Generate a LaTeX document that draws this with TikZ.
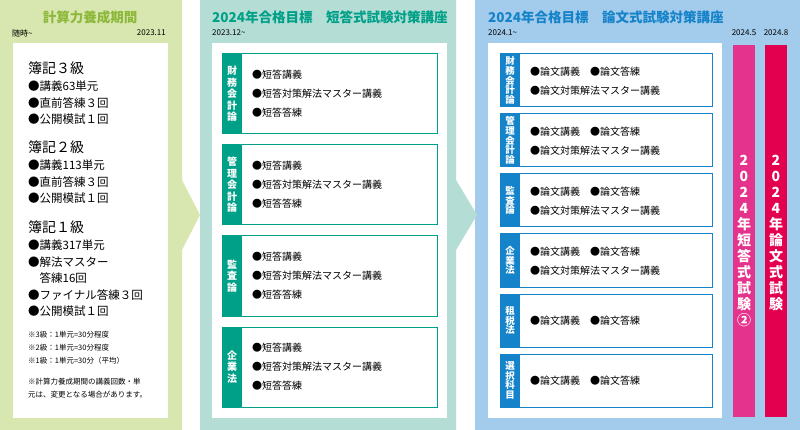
\documentclass[tikz,border=0pt]{standalone}
\usepackage{fontspec}
\setmainfont{Noto Sans CJK JP}
\usetikzlibrary{positioning}
\definecolor{grnbg}{HTML}{D8E7AF}
\definecolor{grnfg}{HTML}{8DB83B}
\definecolor{tealbg}{HTML}{B3DDD5}
\definecolor{tealfg}{HTML}{00A088}
\definecolor{bluebg}{HTML}{A3CBEB}
\definecolor{bluefg}{HTML}{1583C9}
\definecolor{pinkbar}{HTML}{E4338C}
\definecolor{redbar}{HTML}{E2004F}
\tikzset{
  item/.style={anchor=west, inner sep=0pt, font=\fontsize{10}{12}\selectfont},
  bigitem/.style={anchor=west, inner sep=0pt, font=\fontsize{11.5}{14}\selectfont},
  grade/.style={anchor=west, inner sep=0pt, font=\fontsize{14}{17}\selectfont},
  note/.style={anchor=west, inner sep=0pt, font=\fontsize{7.5}{13}\selectfont, align=left},
  date/.style={inner sep=0pt, font=\fontsize{8}{9}\selectfont},
  title/.style={inner sep=0pt, font=\bfseries\fontsize{13.5}{16}\selectfont},
  tab/.style={inner sep=0pt, text=white, align=center, font=\bfseries\fontsize{10}{11.5}\selectfont},
  rtab/.style={tab, font=\bfseries\fontsize{9.5}{9.6}\selectfont},
  bartext/.style={inner sep=0pt, text=white, align=center, font=\bfseries\fontsize{14}{16}\selectfont}
}
\newcommand{\subbox}[6]{% x1,x2,y1,y2,colour,name
  \draw[#5, line width=1pt, fill=white] (#1,#3) rectangle (#2,#4);
  \fill[#5] (#1,#3) rectangle ++(20,#4-#3);
  \coordinate (#6) at (#1+10,{(#3+#4)/2});
}
\begin{document}
\begin{tikzpicture}[x=1pt,y=-1pt]
  \useasboundingbox (0,0) rectangle (800,430);
  % panels
  \fill[bluebg] (475,0) rectangle (800,430);
  \fill[tealbg] (200,0) -- (456,0) -- (456,180) -- (477,215) -- (456,250) -- (456,430) -- (200,430) -- cycle;
  \fill[grnbg] (0,0) -- (182,0) -- (182,180) -- (200,215) -- (182,250) -- (182,430) -- (0,430) -- cycle;
  \fill[white] (13,43) rectangle (168,418);
  \fill[white] (212,43) rectangle (447,418);
  \fill[white] (488,43) rectangle (722,418);

  % panel 1
  \node[title, text=grnfg] (t1) at (90,17) {計算力養成期間};
  \node[date, anchor=west] (d1a) at (12,33) {随時\textasciitilde};
  \node[date, anchor=east] (d1b) at (166,33) {2023.11};
  \node[grade] (g3) at (28,68) {簿記３級};
  \foreach \t [count=\i] in {●講義63単元, ●直前答練３回, ●公開模試１回}
    \node[bigitem] at (28,{70+16.5*\i}) {\t};
  \node[grade] (g2) at (28,147) {簿記２級};
  \foreach \t [count=\i] in {●講義113単元, ●直前答練３回, ●公開模試１回}
    \node[bigitem] at (28,{149+16.5*\i}) {\t};
  \node[grade] (g1) at (28,227) {簿記１級};
  \foreach \t [count=\i] in {●講義317単元, ●解法マスター, \quad 答練16回, ●ファイナル答練３回, ●公開模試１回}
    \node[bigitem] at (28,{229+16.5*\i}) {\t};
  \node[note] (n1) at (28,348) {※3級：1単元=30分程度\\※2級：1単元=30分程度\\※1級：1単元=30分（平均）};
  \node[note] (n2) at (28,388) {※計算力養成期間の講義回数・単\\元は、変更となる場合があります。};

  % panel 2
  \node[title, text=tealfg, anchor=west] (t2) at (212,17) {2024年合格目標\quad 短答式試験対策講座};
  \node[date, anchor=west] (d2) at (212,33) {2023.12\textasciitilde};
  \foreach \y/\lab/\nm in {54/財\\務\\会\\計\\論/fa, 145/管\\理\\会\\計\\論/ma, 236/監\\査\\論/au, 327/企\\業\\法/co} {
    \subbox{222}{437}{\y}{\y+80}{tealfg}{\nm}
    \node[tab] at (\nm) {\lab};
    \node[item] at (252,\y+21) {●短答講義};
    \node[item] at (252,\y+40) {●短答対策解法マスター講義};
    \node[item] at (252,\y+59) {●短答答練};
  }

  % panel 3
  \node[title, text=bluefg, anchor=west] (t3) at (488,17) {2024年合格目標\quad 論文式試験対策講座};
  \node[date, anchor=west] (d3) at (488,33) {2024.1\textasciitilde};
  \foreach \y/\lab/\nm in {54/財\\務\\会\\計\\論/rfa, 114/管\\理\\会\\計\\論/rma, 174/監\\査\\論/rau, 234/企\\業\\法/rco} {
    \subbox{500}{712}{\y}{\y+53}{bluefg}{\nm}
    \node[rtab] at (\nm) {\lab};
    \node[item] at (530,\y+18) {●論文講義\quad ●論文答練};
    \node[item] at (530,\y+37) {●論文対策解法マスター講義};
  }
  \foreach \y/\lab/\nm in {294/租\\税\\法/rtx, 354/選\\択\\科\\目/rel} {
    \subbox{500}{712}{\y}{\y+53}{bluefg}{\nm}
    \node[rtab] at (\nm) {\lab};
    \node[item] at (530,\y+27) {●論文講義\quad ●論文答練};
  }

  % exam bars
  \fill[pinkbar] (733,45) rectangle (755,417);
  \fill[redbar] (765,45) rectangle (787,417);
  \node[date] (d4) at (744,33) {2024.5};
  \node[date] (d5) at (776,33) {2024.8};
  \node[bartext, anchor=north] (b1) at (744,155) {2\\0\\2\\4\\年\\短\\答\\式\\試\\験\\②};
  \node[bartext, anchor=north] (b2) at (776,155) {2\\0\\2\\4\\年\\論\\文\\式\\試\\験};
\end{tikzpicture}
\end{document}
